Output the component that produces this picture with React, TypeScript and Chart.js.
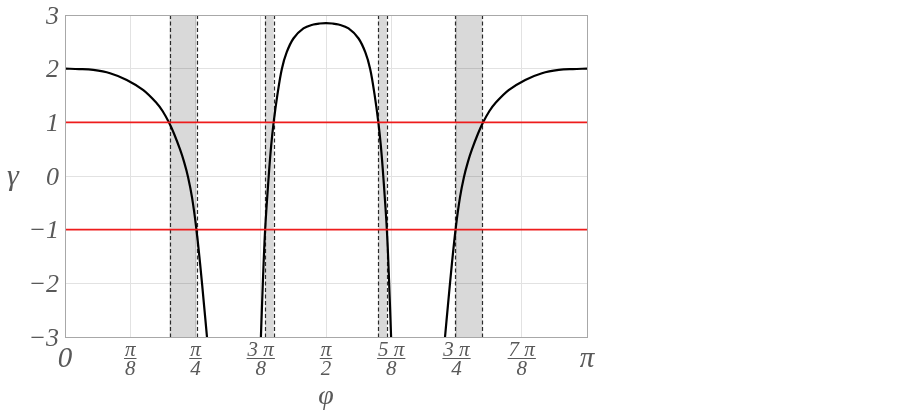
import React, { useEffect, useRef } from "react";
import { Chart, registerables } from "chart.js";

Chart.register(...registerables);

// x values are in units of π
const xTickValues = [0, 0.125, 0.25, 0.375, 0.5, 0.625, 0.75, 0.875, 1];
const xTickLabels = ["0", "π/8", "π/4", "3 π/8", "π/2", "5 π/8", "3 π/4", "7 π/8", "π"];
const yTickValues = [-3, -2, -1, 0, 1, 2, 3];
const yTickLabels = ["−3", "−2", "−1", "0", "1", "2", "3"];
const xTitle = "φ";
const yTitle = "γ";

const leftPhi = [0, 0.0271, 0.0542, 0.0863, 0.1183, 0.1501, 0.1758, 0.1869, 0.199, 0.2089, 0.2204, 0.2281, 0.2358, 0.2434, 0.2511, 0.2588, 0.2664, 0.272];
const leftGamma = [2.0, 1.993, 1.976, 1.915, 1.79, 1.6, 1.356, 1.211, 1.0, 0.787, 0.494, 0.263, -0.022, -0.402, -0.941, -1.634, -2.409, -3.0];

const middlePhi = [0.3753, 0.379, 0.3834, 0.3903, 0.3949, 0.3997, 0.407, 0.4154, 0.4246, 0.4376, 0.4568, 0.4759, 0.4878, 0.5, 0.5122, 0.5241, 0.5432, 0.5624, 0.5754, 0.5846, 0.593, 0.6003, 0.6051, 0.6097, 0.6166, 0.621, 0.6247];
const middleGamma = [-3, -2, -1, 0, 0.56, 1, 1.52, 1.995, 2.302, 2.562, 2.749, 2.823, 2.842, 2.847, 2.842, 2.823, 2.749, 2.562, 2.302, 1.995, 1.52, 1, 0.56, 0, -1, -2, -3];

const rightPhi = [0.728, 0.7336, 0.7412, 0.7489, 0.7566, 0.7642, 0.7719, 0.7796, 0.7911, 0.801, 0.8131, 0.8242, 0.8499, 0.8817, 0.9137, 0.9458, 0.9729, 1.0];
const rightGamma = [-3.0, -2.409, -1.634, -0.941, -0.402, -0.022, 0.263, 0.494, 0.787, 1.0, 1.211, 1.356, 1.6, 1.79, 1.915, 1.976, 1.993, 2.0];

const thresholdLevels = [1, -1];

const bandStarts = [0.2003, 0.3834, 0.6003, 0.7479];
const bandEnds = [0.2521, 0.3997, 0.6166, 0.7997];

const toPoints = (xs: number[], ys: number[]) => xs.map((x, i) => ({ x, y: ys[i] }));

const SERIF = '"Liberation Serif"';
const TEXT = "#595959";
const FONT_Y = `italic 26px ${SERIF}`;
const FONT_FRAC = `italic 21px ${SERIF}`;
const FONT_END = `italic 29px ${SERIF}`;

const decorPlugin = {
  id: "decor",
  beforeDatasetsDraw(chart: any) {
    const { ctx, chartArea } = chart;
    const xs = chart.scales.x;
    ctx.save();
    ctx.beginPath();
    ctx.rect(chartArea.left, chartArea.top, chartArea.right - chartArea.left, chartArea.bottom - chartArea.top);
    ctx.clip();
    for (let i = 0; i < bandStarts.length; i++) {
      const a = xs.getPixelForValue(bandStarts[i]);
      const b = xs.getPixelForValue(bandEnds[i]);
      ctx.fillStyle = "rgba(0,0,0,0.15)";
      ctx.fillRect(a, chartArea.top, b - a, chartArea.bottom - chartArea.top);
    }
    ctx.strokeStyle = "#2a2a2a";
    ctx.lineWidth = 1.2;
    ctx.setLineDash([4, 2.5]);
    for (let i = 0; i < bandStarts.length; i++) {
      for (const v of [bandStarts[i], bandEnds[i]]) {
        const p = Math.round(xs.getPixelForValue(v)) + 0.5;
        ctx.beginPath();
        ctx.moveTo(p, chartArea.top);
        ctx.lineTo(p, chartArea.bottom);
        ctx.stroke();
      }
    }
    ctx.restore();
  },
  afterDraw(chart: any) {
    const { ctx, chartArea } = chart;
    const xs = chart.scales.x;
    const ys = chart.scales.y;
    ctx.save();
    // frame
    ctx.strokeStyle = "#a8a8a8";
    ctx.lineWidth = 1;
    ctx.strokeRect(
      Math.round(chartArea.left) + 0.5,
      Math.round(chartArea.top) + 0.5,
      Math.round(chartArea.right - chartArea.left),
      Math.round(chartArea.bottom - chartArea.top)
    );
    ctx.fillStyle = TEXT;
    ctx.strokeStyle = TEXT;
    // y tick labels
    ctx.font = FONT_Y;
    ctx.textAlign = "right";
    ctx.textBaseline = "middle";
    yTickValues.forEach((v, i) => {
      ctx.fillText(yTickLabels[i], chartArea.left - 6, ys.getPixelForValue(v) + 2);
    });
    // x tick labels
    xTickValues.forEach((v, i) => {
      const x = xs.getPixelForValue(v);
      const label = xTickLabels[i];
      ctx.textAlign = "center";
      ctx.textBaseline = "alphabetic";
      if (label.includes("/")) {
        const [num, den] = label.split("/");
        ctx.font = FONT_FRAC;
        const w = Math.max(ctx.measureText(num).width, ctx.measureText(den).width) + 2;
        ctx.fillText(num, x, chartArea.bottom + 19);
        ctx.lineWidth = 1;
        ctx.beginPath();
        ctx.moveTo(x - w / 2, chartArea.bottom + 21.5);
        ctx.lineTo(x + w / 2, chartArea.bottom + 21.5);
        ctx.stroke();
        ctx.fillText(den, x, chartArea.bottom + 38);
      } else {
        ctx.font = FONT_END;
        ctx.fillText(label, x, chartArea.bottom + 30);
      }
    });
    ctx.restore();
  },
};

export default function App() {
  const ref = useRef<HTMLCanvasElement | null>(null);
  useEffect(() => {
    if (!ref.current) return;
    const curveStyle = {
      borderColor: "#000000",
      borderWidth: 2.2,
      pointRadius: 0,
      showLine: true,
      tension: 0.35,
      fill: false,
    };
    const chart = new Chart(ref.current, {
      type: "scatter",
      data: {
        datasets: [
          ...thresholdLevels.map((lvl) => ({
            data: [
              { x: 0, y: lvl },
              { x: 1, y: lvl },
            ],
            borderColor: "#ee1c1c",
            borderWidth: 1.6,
            pointRadius: 0,
            showLine: true,
          })),
          { data: toPoints(leftPhi, leftGamma), ...curveStyle },
          { data: toPoints(middlePhi, middleGamma), ...curveStyle },
          { data: toPoints(rightPhi, rightGamma), ...curveStyle },
        ],
      },
      options: {
        animation: false,
        responsive: true,
        maintainAspectRatio: false,
        layout: { padding: { left: 65, right: 315, top: 15, bottom: 73 } },
        plugins: { legend: { display: false }, tooltip: { enabled: false } },
        scales: {
          x: {
            type: "linear",
            min: 0,
            max: 1,
            ticks: { display: false, stepSize: 0.125 },
            grid: { color: "#e2e2e2", lineWidth: 1, drawTicks: false },
            border: { display: false },
            afterFit: (s: any) => {
              s.height = 0;
            },
          },
          y: {
            type: "linear",
            min: -3,
            max: 3,
            ticks: { display: false, stepSize: 1 },
            grid: { color: "#e2e2e2", lineWidth: 1, drawTicks: false },
            border: { display: false },
            afterFit: (s: any) => {
              s.width = 0;
            },
          },
        },
      },
      plugins: [decorPlugin],
    });
    let alive = true;
    const redraw = () => {
      if (alive) chart.update();
    };
    const fs: any = (document as any).fonts;
    if (fs && fs.load) {
      Promise.all([
        fs.load('italic 26px "Liberation Serif"'),
        fs.load('italic 21px "Liberation Serif"'),
        fs.load('italic 29px "Liberation Serif"'),
      ])
        .then(redraw)
        .catch(() => {});
      if (fs.ready) fs.ready.then(redraw).catch(() => {});
    }
    const t1 = setTimeout(redraw, 100);
    const t2 = setTimeout(redraw, 400);
    return () => {
      alive = false;
      clearTimeout(t1);
      clearTimeout(t2);
      chart.destroy();
    };
  }, []);
  return (
    <div style={{ position: "fixed", left: 0, top: 0, width: 902, height: 410, background: "#fff" }}>
      <canvas ref={ref} />
      <div
        style={{
          position: "absolute",
          left: 7,
          top: 160,
          font: 'italic 30px "Liberation Serif"',
          lineHeight: "30px",
          color: TEXT,
          whiteSpace: "nowrap",
        }}
      >
        {yTitle}
      </div>
      <div
        style={{
          position: "absolute",
          left: 296,
          width: 60,
          top: 381,
          textAlign: "center",
          font: 'italic 28px "Liberation Serif"',
          lineHeight: "28px",
          color: TEXT,
          whiteSpace: "nowrap",
        }}
      >
        {xTitle}
      </div>
    </div>
  );
}
